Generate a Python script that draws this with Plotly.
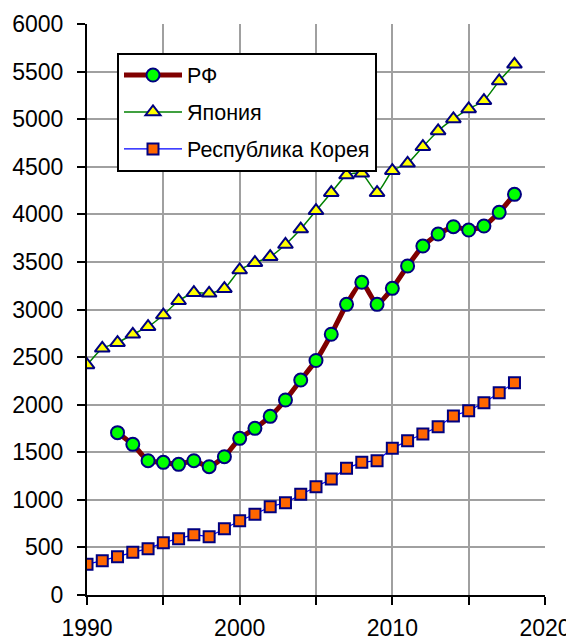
import plotly.graph_objects as go

years_rf = list(range(1992, 2019))
rf = [1706, 1583, 1411, 1394, 1373, 1411, 1348, 1453, 1646, 1751, 1877, 2049, 2259,
      2464, 2740, 3054, 3286, 3054, 3222, 3457, 3667, 3793, 3870, 3835, 3877, 4021, 4210]

years = list(range(1990, 2019))
japan = [2417, 2592, 2651, 2739, 2819, 2942, 3092, 3177, 3170, 3219, 3415, 3492, 3555,
         3683, 3845, 4038, 4227, 4413, 4431, 4227, 4459, 4536, 4711, 4876, 5002, 5107,
         5194, 5401, 5576]
korea = [322, 361, 403, 448, 487, 550, 592, 634, 613, 697, 781, 848, 928, 970, 1058,
         1138, 1219, 1331, 1394, 1411, 1541, 1621, 1692, 1768, 1881, 1937, 2021, 2126, 2231]

names = ["РФ", "Япония", "Республика Корея"]

NAVY = "#000080"
GRID = "#a0a0a0"

fig = go.Figure()
fig.add_trace(go.Scatter(
    x=years_rf, y=rf, name=names[0], mode="lines+markers", legendgroup="a",
    line=dict(color="#800000", width=5, shape="spline", smoothing=0.5),
    marker=dict(symbol="circle", size=13, color="#00ff00", line=dict(color=NAVY, width=2)),
))
fig.add_trace(go.Scatter(
    x=years, y=japan, name=names[1], mode="lines+markers", legendgroup="b",
    line=dict(color="#008000", width=1.5, shape="spline", smoothing=0.5),
    marker=dict(symbol="triangle-up", size=13, color="#ffff00", line=dict(color=NAVY, width=2)),
))
fig.add_trace(go.Scatter(
    x=years, y=korea, name=names[2], mode="lines+markers", legendgroup="c",
    line=dict(color="#0000ff", width=1.2),
    marker=dict(symbol="square", size=11, color="#ff6600", line=dict(color=NAVY, width=2)),
))

# the page adds an 8px body margin, so margins are shifted to compensate
fig.update_layout(
    width=574, height=641,
    margin=dict(l=79, r=37, t=16, b=54),
    plot_bgcolor="white", paper_bgcolor="white",
    font=dict(family="Arial, Liberation Sans", size=23, color="black"),
    showlegend=True,
    legend=dict(
        x=0.0655, y=0.95, xanchor="left", yanchor="top",
        bgcolor="white", bordercolor="black", borderwidth=2,
        font=dict(size=21.5), itemwidth=58, tracegroupgap=6,
        traceorder="grouped",
    ),
    xaxis=dict(
        range=[1990, 2020], dtick=10, tick0=1990, automargin=False,
        showline=True, linecolor="black", linewidth=2,
        ticks="outside", ticklen=8, tickwidth=2, tickcolor="black",
        ticklabelstandoff=3,
        showgrid=True, gridcolor=GRID, gridwidth=2,
        minor=dict(dtick=5, ticks="outside", ticklen=8, tickwidth=2, tickcolor="black",
                   showgrid=True, gridcolor=GRID, gridwidth=2),
        zeroline=False,
    ),
    yaxis=dict(
        range=[0, 6000], dtick=500, automargin=False,
        showline=True, linecolor="black", linewidth=2,
        ticks="outside", ticklen=8, tickwidth=2, tickcolor="black",
        ticklabelstandoff=9,
        showgrid=True, gridcolor=GRID, gridwidth=2,
        zeroline=False,
    ),
)

fig.write_html("out.html")
